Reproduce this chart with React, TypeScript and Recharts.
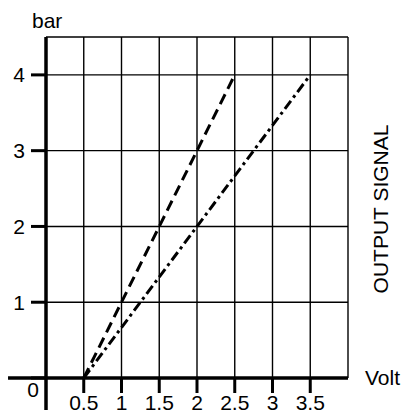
import { LineChart, Line, XAxis, YAxis, CartesianGrid, ReferenceLine } from 'recharts'

// output signal (bar) against input voltage (Volt)
const dashedVolts = [0.5, 2.5]
const dashedBar = [0, 4]
const dashDotVolts = [0.5, 3.5]
const dashDotBar = [0, 4]

const voltTicks = [0.5, 1, 1.5, 2, 2.5, 3, 3.5]
const barTicks = [0, 1, 2, 3, 4]

const dashedData = dashedVolts.map((x, i) => ({ x, y: dashedBar[i] }))
const dashDotData = dashDotVolts.map((x, i) => ({ x, y: dashDotBar[i] }))

const FONT = '"Liberation Sans", Arial, sans-serif'
const FS = 21

// eslint-disable-next-line @typescript-eslint/no-explicit-any
function BarTick({ x, y, payload }: any) {
  if (payload.value === 0) {
    return (
      <text x={x + 8} y={y + 19} textAnchor="middle" fontSize={FS} fontFamily={FONT} fill="#000">
        0
      </text>
    )
  }
  return (
    <text x={x} y={y} dy="0.36em" textAnchor="end" fontSize={FS} fontFamily={FONT} fill="#000">
      {payload.value}
    </text>
  )
}

export default function App() {
  return (
    <div style={{ position: 'absolute', left: 0, top: 0, background: '#fff' }}>
      <LineChart width={403} height={410} margin={{ top: 37, right: 55, left: 6, bottom: 0 }}>
        <CartesianGrid stroke="#000" strokeWidth={1.4} />
        <XAxis
          type="number"
          dataKey="x"
          domain={[0, 4]}
          ticks={voltTicks}
          allowDataOverflow
          height={32}
          tickFormatter={(v: number) => String(v).replace('.', ',')}
          tick={{ fill: '#000', fontSize: FS, fontFamily: FONT }}
          tickSize={15}
          tickMargin={2}
          tickLine={{ stroke: '#000', strokeWidth: 3 }}
          axisLine={{ stroke: '#000', strokeWidth: 3.5 }}
        />
        <YAxis
          type="number"
          domain={[0, 4.5]}
          ticks={barTicks}
          allowDataOverflow
          width={40}
          tick={<BarTick />}
          tickSize={15}
          tickMargin={6}
          tickLine={{ stroke: '#000', strokeWidth: 3 }}
          axisLine={{ stroke: '#000', strokeWidth: 3.5 }}
        />
        <ReferenceLine
          segment={[{ x: -0.503, y: 0 }, { x: 0, y: 0 }]}
          ifOverflow="visible"
          stroke="#000"
          strokeWidth={3.5}
        />
        <ReferenceLine
          segment={[{ x: 0, y: 0 }, { x: 0, y: -0.45 }]}
          ifOverflow="visible"
          stroke="#000"
          strokeWidth={3.5}
        />
        <Line
          data={dashedData}
          dataKey="y"
          type="linear"
          stroke="#000"
          strokeWidth={3}
          strokeDasharray="11 6"
          dot={false}
          activeDot={false}
          isAnimationActive={false}
        />
        <Line
          data={dashDotData}
          dataKey="y"
          type="linear"
          stroke="#000"
          strokeWidth={3}
          strokeDasharray="10 4 3 4"
          dot={false}
          activeDot={false}
          isAnimationActive={false}
        />
        <text x={32} y={28} fontSize={FS} fontFamily={FONT} fill="#000">
          bar
        </text>
        <text x={365} y={385} fontSize={FS} fontFamily={FONT} fill="#000">
          Volt
        </text>
        <text
          x={388}
          y={209}
          textAnchor="middle"
          transform="rotate(-90 388 209)"
          fontSize={FS}
          fontFamily={FONT}
          fill="#000"
        >
          OUTPUT SIGNAL
        </text>
      </LineChart>
    </div>
  )
}
